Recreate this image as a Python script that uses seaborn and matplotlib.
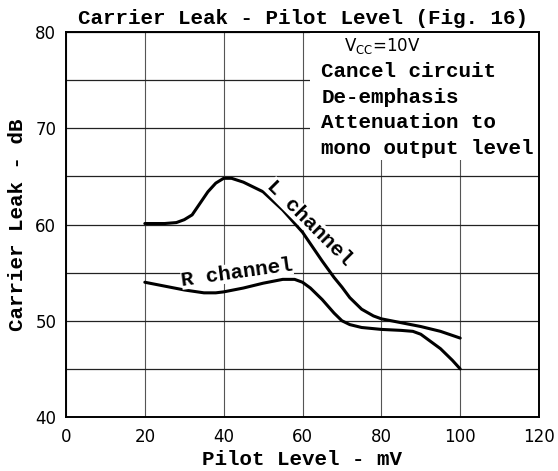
import matplotlib
matplotlib.use('Agg')
import matplotlib.pyplot as plt
import seaborn as sns
from matplotlib.patches import Rectangle

# ── Data ──────────────────────────────────────
pilot_l = [20, 25, 28, 30, 32, 34, 36, 38, 40, 42, 45, 50, 55, 60,
           63, 65, 68, 70, 72, 75, 78, 80, 85, 90, 95, 100]
leak_l = [60.1, 60.1, 60.2, 60.5, 61.0, 62.2, 63.4, 64.3, 64.8, 64.8,
          64.4, 63.4, 61.5, 59.2, 57.4, 56.2, 54.5, 53.5, 52.4, 51.2,
          50.5, 50.2, 49.8, 49.4, 48.9, 48.2]

pilot_r = [20, 25, 30, 35, 38, 40, 45, 50, 55, 58, 60, 62, 65, 68,
           70, 72, 75, 80, 85, 88, 90, 92, 95, 98, 100]
leak_r = [54.0, 53.6, 53.2, 52.9, 52.9, 53.0, 53.4, 53.9, 54.3, 54.3,
          54.0, 53.4, 52.2, 50.8, 50.0, 49.6, 49.3, 49.1, 49.0, 48.9,
          48.6, 48.0, 47.1, 45.9, 45.0]

x_ticks = [0, 20, 40, 60, 80, 100, 120]
y_ticks = [40, 50, 60, 70, 80]
y_minor = [45, 55, 65, 75]
notes = ['Cancel circuit', 'De-emphasis', 'Attenuation to', 'mono output level']

# ── Style ─────────────────────────────────────
sns.set_style('white')
plt.rcParams['font.family'] = ['DejaVu Sans']
plt.rcParams.update({'text.color': 'black', 'axes.labelcolor': 'black',
                     'xtick.color': 'black', 'ytick.color': 'black'})
MONO = dict(fontfamily='Liberation Mono', fontweight='bold', fontsize=15)

fig = plt.figure(figsize=(5.58, 4.71), dpi=100)
ax = fig.add_axes([66 / 558, 1 - 417 / 471, 473 / 558, 385 / 471])

sns.lineplot(x=pilot_l, y=leak_l, ax=ax, color='black', lw=2.2, zorder=3)
sns.lineplot(x=pilot_r, y=leak_r, ax=ax, color='black', lw=2.2, zorder=3)

ax.set_xlim(0, 120)
ax.set_ylim(40, 80)
ax.set_xticks(x_ticks)
ax.set_yticks(y_ticks)
ax.set_yticks(y_minor, minor=True)
ax.tick_params(which='both', length=0, labelsize=12)
ax.tick_params(axis='x', pad=8)
ax.tick_params(axis='y', pad=7)

ax.set_axisbelow(True)
ax.grid(axis='x', which='major', color='#555555', lw=0.8)
ax.grid(axis='y', which='both', color='#222222', lw=0.9)
for sp in ax.spines.values():
    sp.set_color('black')
    sp.set_linewidth(1.4)

# white area behind the conditions note
ax.add_patch(Rectangle((61.8, 66.7), 58.2, 13.3, facecolor='white',
                       edgecolor='none', zorder=1))

ax.text(70.5, 78.5, r'V$_{\mathrm{CC}}$=10V', fontsize=12,
        va='center', ha='left', zorder=4)
for i, line in enumerate(notes):
    ax.text(64.8, 75.9 - 2.67 * i, line, va='center', ha='left',
            zorder=4, **MONO)

ax.text(61.7, 60.2, 'L channel', rotation=-45, ha='center', va='center',
        rotation_mode='anchor', zorder=4,
        bbox=dict(facecolor='white', edgecolor='none', pad=0), **MONO)
ax.text(43.4, 55.0, 'R channel', rotation=8, ha='center', va='center',
        rotation_mode='anchor', zorder=4,
        bbox=dict(facecolor='white', edgecolor='none', pad=0), **MONO)

ax.set_title('Carrier Leak - Pilot Level (Fig. 16)', pad=6, **MONO)
ax.set_xlabel('Pilot Level - mV', labelpad=3, **MONO)
ax.set_ylabel('Carrier Leak - dB', labelpad=6, **MONO)

fig.savefig('out.png', dpi=100)
